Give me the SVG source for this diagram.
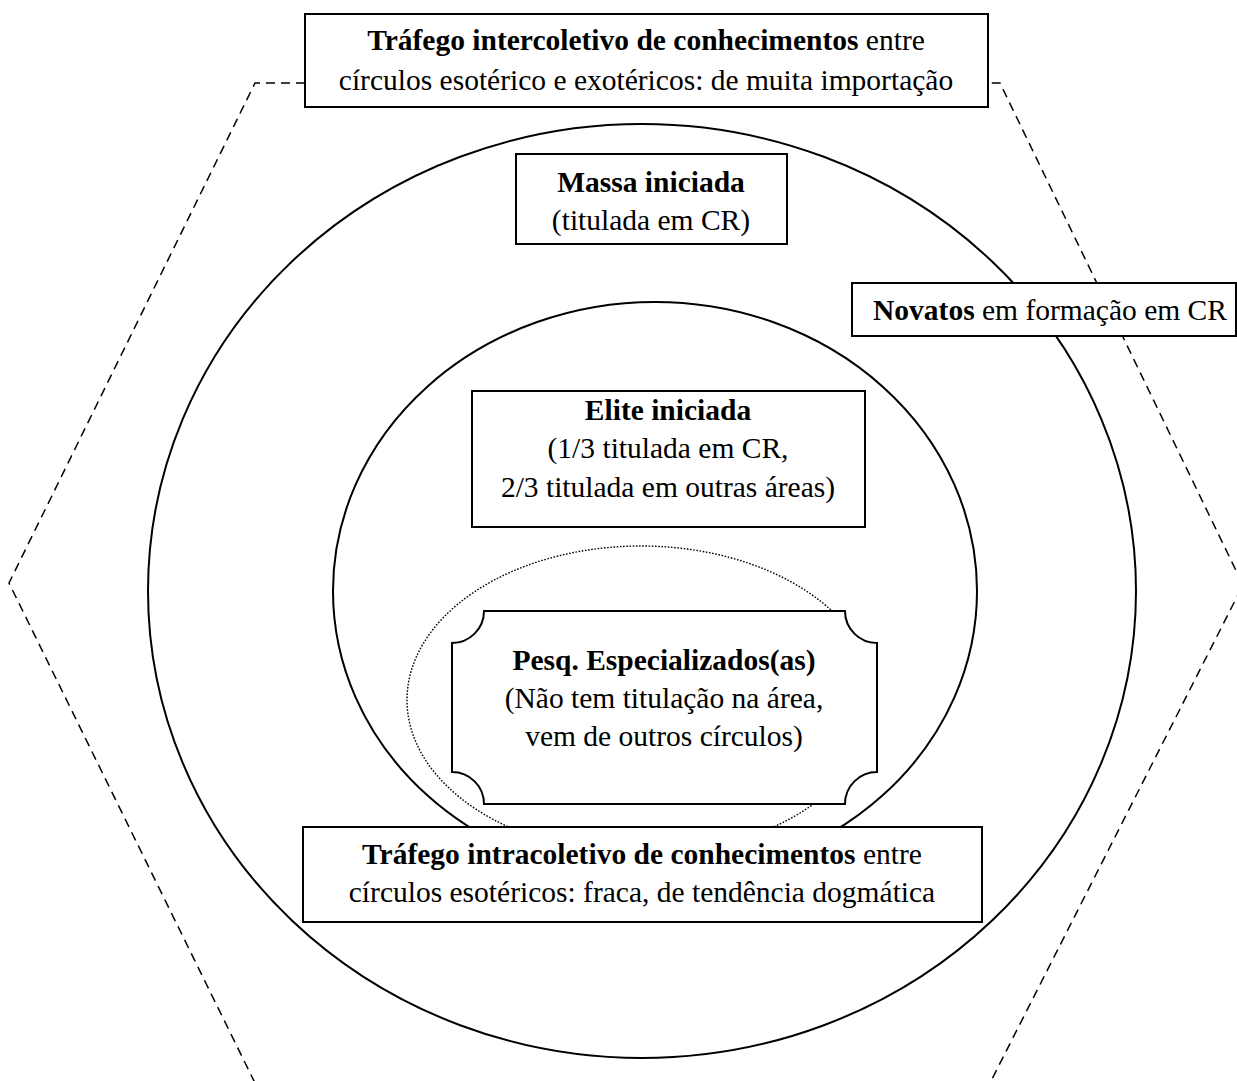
<svg xmlns="http://www.w3.org/2000/svg" width="1237" height="1081" viewBox="0 0 1237 1081">
<style>
  .box{fill:#fff;stroke:#000;stroke-width:2}
  .ring{fill:none;stroke:#000;stroke-width:2}
  .dash{fill:none;stroke:#000;stroke-width:1.5;stroke-dasharray:9 6}
  .dot{fill:none;stroke:#000;stroke-width:1.4;stroke-dasharray:1.6 1.6}
  text{font-family:"Liberation Serif","Times New Roman",serif;font-size:29.5px;fill:#000}
  .b{font-weight:bold}
</style>
<rect width="1237" height="1081" fill="#fff"/>
<g id="shapes">
  <path class="dash" d="M305,83 L255,83 L9,583 L255,1083 L990,1083 L1243,585 L1000,83 L988,83"/>
  <ellipse class="ring" cx="642" cy="591" rx="494" ry="467"/>
  <ellipse class="ring" cx="655" cy="591" rx="322" ry="289"/>
  <ellipse class="dot" cx="641" cy="700" rx="234" ry="154"/>
</g>
<g id="top-box">
  <rect class="box" x="305" y="14" width="683" height="93"/>
  <text x="646" y="50" text-anchor="middle"><tspan class="b">Tráfego intercoletivo de conhecimentos</tspan> entre</text>
  <text x="646" y="90" text-anchor="middle">círculos esotérico e exotéricos: de muita importação</text>
</g>
<g id="massa">
  <rect class="box" x="516" y="154" width="271" height="90"/>
  <text x="651" y="192" text-anchor="middle" class="b">Massa iniciada</text>
  <text x="651" y="230" text-anchor="middle">(titulada em CR)</text>
</g>
<g id="novatos">
  <rect class="box" x="852" y="283" width="384" height="53"/>
  <text x="873" y="320"><tspan class="b">Novatos</tspan> em formação em CR</text>
</g>
<g id="elite">
  <rect class="box" x="472" y="391" width="393" height="136"/>
  <text x="668" y="420" text-anchor="middle" class="b">Elite iniciada</text>
  <text x="668" y="458" text-anchor="middle">(1/3 titulada em CR,</text>
  <text x="668" y="497" text-anchor="middle">2/3 titulada em outras áreas)</text>
</g>
<g id="pesq">
  <path class="box" d="M484,611 L845,611 A32,32 0 0 0 877,643 L877,772 A32,32 0 0 0 845,804 L484,804 A32,32 0 0 0 452,772 L452,643 A32,32 0 0 0 484,611 Z"/>
  <text x="664" y="670" text-anchor="middle" class="b">Pesq. Especializados(as)</text>
  <text x="664" y="708" text-anchor="middle">(Não tem titulação na área,</text>
  <text x="664" y="746" text-anchor="middle">vem de outros círculos)</text>
</g>
<g id="bottom-box">
  <rect class="box" x="303" y="827" width="679" height="95"/>
  <text x="642" y="864" text-anchor="middle"><tspan class="b">Tráfego intracoletivo de conhecimentos</tspan> entre</text>
  <text x="642" y="902" text-anchor="middle">círculos esotéricos: fraca, de tendência dogmática</text>
</g>
</svg>
